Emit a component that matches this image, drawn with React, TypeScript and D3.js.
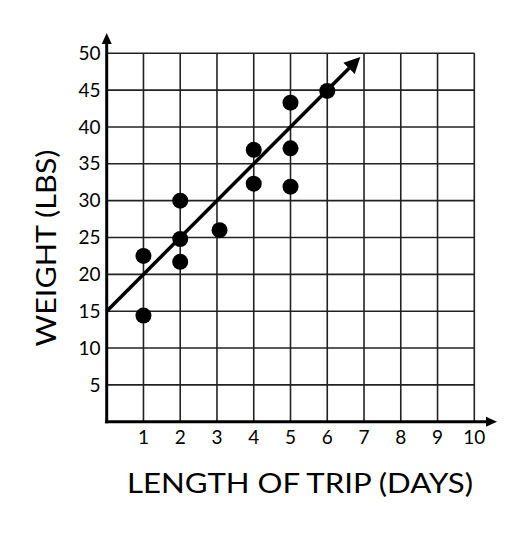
import * as React from "react";
import { scaleLinear, range } from "d3";

// data
const days = [1, 1, 2, 2, 2, 3.07, 4, 4, 5, 5, 5, 6];
const weights = [14.4, 22.5, 24.8, 21.7, 30.0, 26.0, 36.9, 32.3, 43.3, 37.1, 31.9, 44.9];
const xTicks = range(1, 11);
const yTicks = range(5, 55, 5);
// trend line: weight = 15 + 5 * days, drawn up to ~6.9 days
const trendStart = [0, 15];
const trendEnd = [6.9, 49.5];

const xTitle = "LENGTH OF TRIP (DAYS)";
const yTitle = "WEIGHT (LBS)";

export default function App() {
  const W = 530;
  const H = 554;
  const font = "Lato, 'Open Sans', sans-serif";

  const x = scaleLinear().domain([0, 10]).range([106.7, 474.3]);
  const y = scaleLinear().domain([0, 50]).range([421.7, 53.3]);

  const gridColor = "#222";

  // arrowhead along the trend line
  const x1 = x(trendStart[0]), y1 = y(trendStart[1]);
  const x2 = x(trendEnd[0]), y2 = y(trendEnd[1]);
  const ang = Math.atan2(y2 - y1, x2 - x1);
  const headLen = 16, headW = 8;
  const bx = x2 - headLen * Math.cos(ang), by = y2 - headLen * Math.sin(ang);
  const head = [
    [x2, y2],
    [bx + headW * Math.sin(ang), by - headW * Math.cos(ang)],
    [bx - headW * Math.sin(ang), by + headW * Math.cos(ang)],
  ];

  return (
    <svg width={W} height={H} style={{ position: "absolute", left: 0, top: 0, background: "#fff" }}>
      {/* grid */}
      {xTicks.map((t) => (
        <line key={"gx" + t} x1={x(t)} x2={x(t)} y1={y(0)} y2={y(50)} stroke={gridColor} strokeWidth={1.6} />
      ))}
      {yTicks.map((t) => (
        <line key={"gy" + t} x1={x(0)} x2={x(10)} y1={y(t)} y2={y(t)} stroke={gridColor} strokeWidth={1.6} />
      ))}

      {/* axes with arrows */}
      <line x1={x(0)} x2={x(0)} y1={y(0) + 1.5} y2={40} stroke="#000" strokeWidth={3} />
      <path d={`M${x(0)},33 L${x(0) - 5},44 L${x(0) + 5},44 Z`} fill="#000" />
      <line x1={x(0) - 1.5} x2={488} y1={y(0)} y2={y(0)} stroke="#000" strokeWidth={3} />
      <path d={`M497,${y(0)} L486,${y(0) - 5} L486,${y(0) + 5} Z`} fill="#000" />

      {/* tick labels */}
      {xTicks.map((t) => (
        <text key={"tx" + t} x={x(t)} y={443.5} textAnchor="middle" fontFamily={font} fontSize={19} fill="#000">
          {t}
        </text>
      ))}
      {yTicks.map((t) => (
        <text key={"ty" + t} x={100.5} y={y(t)} dy="0.35em" textAnchor="end" fontFamily={font} fontSize={19} fill="#000">
          {t}
        </text>
      ))}

      {/* trend line */}
      <line x1={x1} y1={y1} x2={bx} y2={by} stroke="#000" strokeWidth={3.5} />
      <path d={`M${head.map((p) => p.join(",")).join(" L")} Z`} fill="#000" />

      {/* points */}
      {days.map((d, i) => (
        <circle key={"p" + i} cx={x(d)} cy={y(weights[i])} r={8} fill="#000" />
      ))}

      {/* titles */}
      <text x={300} y={484} dy="0.35em" textAnchor="middle" fontFamily={font} fontSize={27} fill="#000"
        textLength={346} lengthAdjust="spacingAndGlyphs">
        {xTitle}
      </text>
      <text transform="translate(47,248) rotate(-90)" dy="0.35em" textAnchor="middle" fontFamily={font} fontSize={27}
        fill="#000" textLength={197} lengthAdjust="spacingAndGlyphs">
        {yTitle}
      </text>
    </svg>
  );
}
